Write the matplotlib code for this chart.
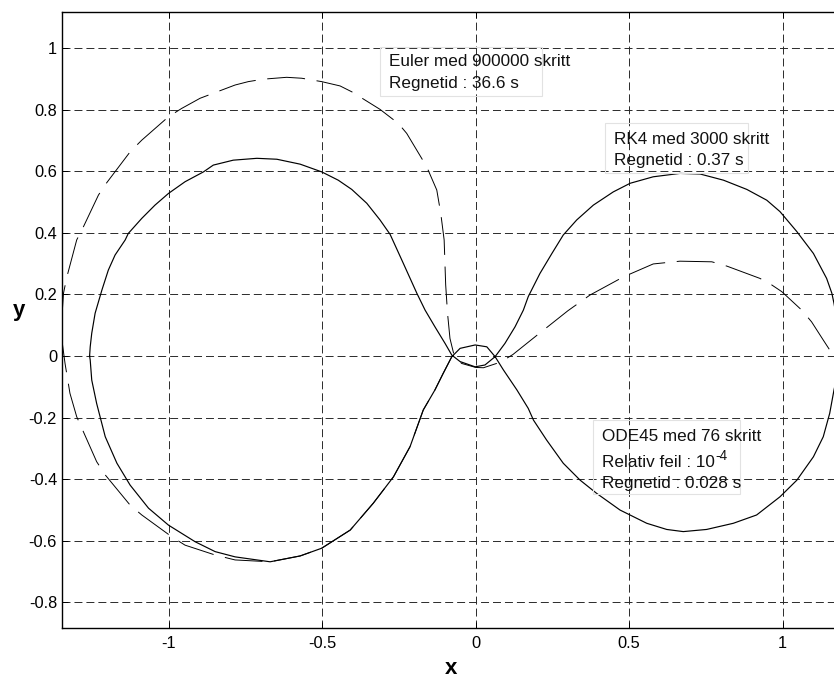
import matplotlib
matplotlib.use('Agg')
import matplotlib.pyplot as plt
from matplotlib.patches import Rectangle

plt.rcParams['font.family'] = ['Liberation Sans', 'DejaVu Sans']

# solid orbit (RK4 and ODE45 lie on top of each other)
sol_x = [-1.258, -1.256, -1.251, -1.240, -1.218, -1.197, -1.175, -1.142, -1.132, -1.088,
         -1.045, -1.001, -0.947, -0.887, -0.855, -0.790, -0.713, -0.648, -0.572, -0.502,
         -0.448, -0.404, -0.355, -0.312, -0.279, -0.236, -0.192, -0.165, -0.133, -0.100,
         -0.078, -0.051, -0.002, 0.030, 0.063, 0.095, 0.128, 0.155, 0.171, 0.209,
         0.248, 0.285, 0.329, 0.383, 0.448, 0.503, 0.578, 0.665, 0.731, 0.807,
         0.883, 0.948, 0.991, 1.046, 1.100, 1.143, 1.160, 1.167, 1.183, 1.186,
         1.178, 1.167, 1.153, 1.132, 1.100, 1.046, 0.991, 0.915, 0.839, 0.752,
         0.676, 0.622, 0.557, 0.470, 0.394, 0.340, 0.285, 0.231, 0.188, 0.171,
         0.134, 0.090, 0.063, 0.036, -0.002, -0.051, -0.078, -0.106, -0.133, -0.171,
         -0.214, -0.268, -0.334, -0.409, -0.502, -0.572, -0.670, -0.784, -0.849, -0.914,
         -1.001, -1.066, -1.126, -1.169, -1.207, -1.235, -1.251, -1.256, -1.258]
sol_y = [0.000, 0.030, 0.074, 0.139, 0.214, 0.279, 0.328, 0.377, 0.398, 0.447,
         0.490, 0.528, 0.566, 0.598, 0.620, 0.636, 0.642, 0.639, 0.623, 0.598,
         0.571, 0.541, 0.496, 0.442, 0.395, 0.301, 0.204, 0.149, 0.095, 0.041,
         0.003, -0.018, -0.035, -0.029, -0.002, 0.041, 0.095, 0.149, 0.193, 0.268,
         0.333, 0.393, 0.442, 0.490, 0.533, 0.561, 0.582, 0.593, 0.591, 0.571,
         0.541, 0.506, 0.469, 0.404, 0.333, 0.252, 0.204, 0.171, 0.080, 0.030,
         -0.060, -0.110, -0.186, -0.262, -0.327, -0.403, -0.457, -0.516, -0.543, -0.563,
         -0.570, -0.563, -0.543, -0.500, -0.446, -0.403, -0.348, -0.273, -0.208, -0.170,
         -0.110, -0.045, -0.002, 0.030, 0.036, 0.025, -0.002, -0.056, -0.110, -0.175,
         -0.294, -0.392, -0.478, -0.565, -0.624, -0.649, -0.668, -0.652, -0.635, -0.603,
         -0.549, -0.494, -0.419, -0.348, -0.262, -0.154, -0.078, -0.013, 0.000]

# Euler orbit (dashed)
eul_x = [-0.078, -0.106, -0.133, -0.171, -0.214, -0.268, -0.334, -0.409, -0.502, -0.572,
         -0.670, -0.784, -0.849, -0.947, -0.990, -1.088, -1.126, -1.207, -1.235, -1.283,
         -1.300, -1.322, -1.338, -1.348, -1.350, -1.343, -1.332, -1.300, -1.278, -1.229,
         -1.202, -1.126, -1.088, -1.001, -0.958, -0.898, -0.784, -0.741, -0.692, -0.616,
         -0.567, -0.502, -0.442, -0.404, -0.312, -0.252, -0.225, -0.160, -0.127, -0.114,
         -0.103, -0.098, -0.092, -0.084, -0.070, -0.046, 0.000, 0.025, 0.080, 0.121,
         0.200, 0.233, 0.300, 0.372, 0.481, 0.578, 0.665, 0.769, 0.818, 0.926,
         0.964, 0.997, 1.062, 1.094, 1.132, 1.160, 1.180]
eul_y = [-0.002, -0.056, -0.110, -0.175, -0.294, -0.392, -0.478, -0.565, -0.624, -0.649,
         -0.668, -0.662, -0.646, -0.614, -0.587, -0.516, -0.484, -0.386, -0.343, -0.235,
         -0.197, -0.121, -0.024, 0.050, 0.100, 0.204, 0.257, 0.377, 0.420, 0.523,
         0.563, 0.663, 0.701, 0.777, 0.804, 0.837, 0.880, 0.891, 0.899, 0.905,
         0.902, 0.891, 0.877, 0.858, 0.801, 0.755, 0.723, 0.615, 0.539, 0.463,
         0.377, 0.231, 0.139, 0.057, 0.000, -0.024, -0.037, -0.038, -0.020, 0.005,
         0.068, 0.094, 0.147, 0.198, 0.257, 0.299, 0.308, 0.306, 0.292, 0.252,
         0.231, 0.209, 0.149, 0.111, 0.052, 0.009, -0.020]

euler_txt = ['Euler med 900000 skritt', 'Regnetid : 36.6 s']
rk4_txt = ['RK4 med 3000 skritt', 'Regnetid : 0.37 s']
ode_txt = ['ODE45 med 76 skritt', 'Relativ feil : 10', 'Regnetid : 0.028 s']
ode_exp = '-4'

fig = plt.figure(figsize=(8.34, 6.79), dpi=100)
ax = fig.add_axes([0.0743, 0.0751, 0.9257, 0.9072])

ax.plot(eul_x, eul_y, color='black', lw=0.7, dashes=(39, 12))
ax.plot(sol_x, sol_y, color='black', lw=0.85)

ax.set_xlim(-1.348, 1.167)
ax.set_ylim(-0.883, 1.117)
ax.set_xticks([-1, -0.5, 0, 0.5, 1])
ax.set_xticklabels(['-1', '-0.5', '0', '0.5', '1'])
ax.set_yticks([-0.8, -0.6, -0.4, -0.2, 0, 0.2, 0.4, 0.6, 0.8, 1])
ax.set_yticklabels(['-0.8', '-0.6', '-0.4', '-0.2', '0', '0.2', '0.4', '0.6', '0.8', '1'])
ax.tick_params(direction='in', length=4, width=0.7, labelsize=11.8, top=True)
ax.tick_params(axis='x', pad=6)
ax.tick_params(axis='y', pad=3.5)
ax.grid(True, color='#2a2a2a', lw=0.7, dashes=(8.2, 4.1))
for s in ax.spines.values():
    s.set_linewidth(1.0)
ax.spines['right'].set_visible(False)

ax.set_xlabel('x', fontsize=16, fontweight='bold', va='baseline', ha='center')
ax.xaxis.set_label_coords(0.5035, -0.0745)
ax.set_ylabel('y', fontsize=16, fontweight='bold', rotation=0, va='baseline', ha='center')
ax.yaxis.set_label_coords(-0.056, 0.5058)

def box(x0, x1, y0, y1):
    ax.add_patch(Rectangle((x0, y0), x1 - x0, y1 - y0, fill=False,
                           ec='#e2e2e2', lw=0.8, zorder=3))

box(-0.312, 0.215, 0.844, 1.004)
box(0.42, 0.888, 0.595, 0.757)
box(0.383, 0.861, -0.448, -0.208)
fs = 12.3
for t, yy in zip(euler_txt, [0.955, 0.886]):
    ax.text(-0.282, yy, t, fontsize=fs, va='center', zorder=4, color='#111111')
for t, yy in zip(rk4_txt, [0.704, 0.634]):
    ax.text(0.451, yy, t, fontsize=fs, va='center', zorder=4, color='#111111')
arts = []
for t, yy in zip(ode_txt, [-0.262, -0.346, -0.413]):
    arts.append(ax.text(0.412, yy, t, fontsize=fs, va='center', zorder=4, color='#111111'))
ax.annotate(ode_exp, xy=(1.0, 0.92), xycoords=arts[1], fontsize=fs * 0.8,
            va='center', ha='left', color='#111111', zorder=4)

fig.savefig('out.png', dpi=100)
